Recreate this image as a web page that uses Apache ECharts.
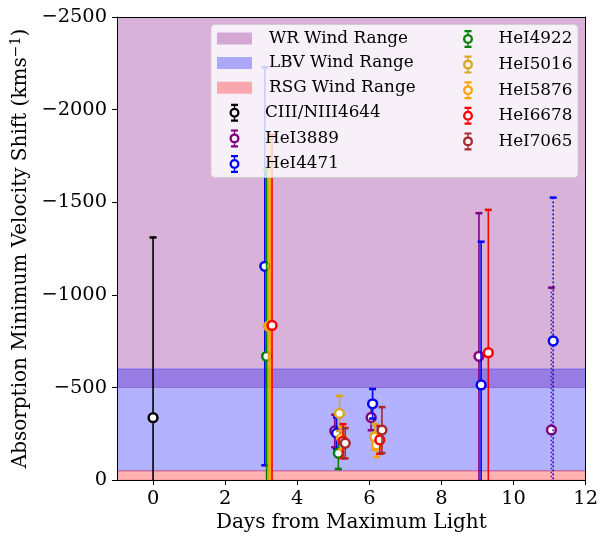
<!DOCTYPE html>
<html>
<head>
<meta charset="utf-8">
<script src="https://cdn.jsdelivr.net/npm/echarts@6/dist/echarts.min.js"></script>
<style>
   html, body { margin: 0; padding: 0; background: #ffffff; }
   #chart { width: 601px; height: 538px; }
</style>
</head>
<body>
<div id="chart"></div>
<script>

// wind speed ranges (km/s, plotted as negative shifts)
const windNames = ['WR Wind Range', 'LBV Wind Range', 'RSG Wind Range'];
const windSlow  = [-500, -50, 0];
const windFast  = [-3000, -600, -50];

// absorption minimum velocity per line: day, shift, error
const lineNames = ['CIII/NIII4644', 'HeI3889', 'HeI4471', 'HeI4922', 'HeI5016', 'HeI5876', 'HeI6678', 'HeI7065'];

const days4644 = [0];
const vel4644  = [-337];
const err4644  = [973];

const days3889 = [5.04, 6.05, 9.04, 11.05];
const vel3889  = [-265, -338, -668, -271];
const err3889  = [88, 69, 773, 768];

const days4471 = [3.10, 5.09, 6.09, 9.10, 11.10];
const vel4471  = [-1154, -253, -412, -514, -751];
const err4471  = [1074, 86, 80, 773, 774];

const days4922 = [3.15, 5.14];
const vel4922  = [-668, -145];
const err4922  = [1010, 85];

const days5016 = [3.20, 5.17, 6.15];
const vel5016  = [-830, -360, -233];
const err5016  = [1030, 95, 70];

const days5876 = [3.25, 5.23, 6.20];
const vel5876  = [-835, -226, -190];
const err5876  = [1030, 60, 66];

const days6678 = [3.30, 5.27, 6.29, 9.30];
const vel6678  = [-835, -210, -217, -688];
const err6678  = [1030, 92, 75, 771];

const days7065 = [5.33, 6.35];
const vel7065  = [-199, -270];
const err7065  = [82, 124];

const xTicks = [0, 2, 4, 6, 8, 10, 12];


const lineDays = [days4644, days3889, days4471, days4922, days5016, days5876, days6678, days7065];
const lineVels = [vel4644, vel3889, vel4471, vel4922, vel5016, vel5876, vel6678, vel7065];
const lineErrs = [err4644, err3889, err4471, err4922, err5016, err5876, err6678, err7065];

const lineColors = ['#000000', '#800080', '#0000ff', '#008000', '#daa520', '#ffa500', '#ff0000', '#a52a2a'];
const windColors = ['rgba(128,0,128,0.3)', 'rgba(0,0,255,0.3)', 'rgba(255,0,0,0.3)'];

const font = 'DejaVu Serif';

const patchIcon = 'path://M0,0H35V12H0Z';
const errIcon = 'path://M1.5,0H8.5V2.2H1.5Z M4.3,2.2H5.7V4.2H4.3Z M4.3,13.8H5.7V15.8H4.3Z M1.5,15.8H8.5V18H1.5Z ' +
                'M0,9A5,5,0,1,1,10,9A5,5,0,1,1,0,9Z M2.3,9A2.7,2.7,0,1,0,7.7,9A2.7,2.7,0,1,0,2.3,9Z';


function bandItem(params, api)
{
   var cs = params.coordSys;
   var y0 = api.coord([0, api.value(0)])[1];
   var y1 = api.coord([0, api.value(1)])[1];
   var c = api.visual('color');
   return {
      type: 'rect',
      shape: { x: cs.x, y: Math.min(y0, y1), width: cs.width, height: Math.abs(y1 - y0) },
      style: { fill: c, stroke: c, lineWidth: 1 }
   };
}

function errorBarItem(params, api)
{
   var day = api.value(0);
   var v = api.value(1);
   var e = api.value(2);
   var p = api.coord([day, v]);
   var top = api.coord([day, v - e]);
   var bot = api.coord([day, v + e]);
   var c = api.visual('color');
   var dotted = day > 10.5; // last epoch is drawn dotted

   return {
      type: 'group',
      children: [
         { type: 'line', shape: { x1: p[0], y1: top[1], x2: p[0], y2: bot[1] },
           style: { stroke: c, lineWidth: 1.6, lineDash: dotted ? [1.6, 2.4] : null } },
         { type: 'line', shape: { x1: p[0] - 3.5, y1: top[1], x2: p[0] + 3.5, y2: top[1] },
           style: { stroke: c, lineWidth: 2.5 } },
         { type: 'line', shape: { x1: p[0] - 3.5, y1: bot[1], x2: p[0] + 3.5, y2: bot[1] },
           style: { stroke: c, lineWidth: 2.5 } },
         { type: 'circle', shape: { cx: p[0], cy: p[1], r: 4.4 },
           style: { fill: '#ffffff', stroke: c, lineWidth: 2.5 } }
      ]
   };
}


var series = [];

for (var i=0; i<windNames.length; i++)
{
   series.push({
      name: windNames[i],
      type: 'custom',
      clip: true,
      silent: true,
      itemStyle: { color: windColors[i] },
      encode: { y: [0, 1] },
      data: [[windSlow[i], windFast[i]]],
      renderItem: bandItem
   });
}

for (var i=0; i<lineNames.length; i++)
{
   var rows = [];
   for (var j=0; j<lineDays[i].length; j++) rows.push([lineDays[i][j], lineVels[i][j], lineErrs[i][j]]);

   series.push({
      name: lineNames[i],
      type: 'custom',
      clip: true,
      silent: true,
      itemStyle: { color: lineColors[i] },
      encode: { x: 0, y: 1 },
      data: rows,
      renderItem: errorBarItem
   });
}


var legendCol1 = [];
var legendCol2 = [];
for (var i=0; i<windNames.length; i++)
   legendCol1.push({ name: windNames[i], icon: patchIcon, textStyle: { padding: [0, 0, 0, 12] } });
for (var i=0; i<lineNames.length; i++)
{
   var item = { name: lineNames[i], icon: errIcon, textStyle: { padding: [0, 0, 0, 8] } };
   if (i < 3) legendCol1.push(item);
   else legendCol2.push(item);
}

var legendBase =
{
   orient: 'vertical',
   top: 25,
   itemWidth: 35,
   itemHeight: 18,
   itemGap: 7.6,
   selectedMode: false,
   textStyle: { fontFamily: font, fontSize: 16.8, color: '#000000' }
};


var chart = echarts.init(document.getElementById('chart'), null, { renderer: 'canvas' });

var option =
{
   animation: false,
   backgroundColor: '#ffffff',
   grid: { left: 117, right: 14, top: 17, bottom: 56 },
   xAxis: [
      {
         type: 'value',
         min: -1,
         max: 12,
         z: 10,
         name: 'Days from Maximum Light',
         nameLocation: 'middle',
         nameGap: 31,
         nameTextStyle: { fontFamily: font, fontSize: 20, color: '#000000' },
         axisLine: { show: true, lineStyle: { color: '#000000', width: 1 } },
         axisTick: { show: true, length: 5, customValues: xTicks, lineStyle: { color: '#000000' } },
         axisLabel: { customValues: xTicks, margin: 9, fontFamily: font, fontSize: 19.4, color: '#000000' },
         splitLine: { show: false }
      },
      {
         type: 'value',
         position: 'top',
         min: -1,
         max: 12,
         z: 10,
         axisLine: { show: true, onZero: false, lineStyle: { color: '#000000', width: 1 } },
         axisTick: { show: false },
         axisLabel: { show: false },
         splitLine: { show: false }
      }
   ],
   yAxis: [
      {
         type: 'value',
         min: -2500,
         max: 0,
         interval: 500,
         inverse: true,
         z: 10,
         name: 'Absorption Minimum Velocity Shift (kms{sup|\u22121})',
         nameLocation: 'middle',
         nameGap: 84,
         nameTextStyle: {
            fontFamily: font, fontSize: 20, color: '#000000',
            rich: { sup: { fontFamily: font, fontSize: 14, color: '#000000', verticalAlign: 'top', padding: [0, 0, 8, 0] } }
         },
         axisLine: { show: true, onZero: false, lineStyle: { color: '#000000', width: 1 } },
         axisTick: { show: true, length: 5, lineStyle: { color: '#000000' } },
         axisLabel: {
            margin: 10, fontFamily: font, fontSize: 19.4, color: '#000000',
            formatter: function (v) { return String(v).replace('-', '\u2212'); }
         },
         splitLine: { show: false }
      },
      {
         type: 'value',
         position: 'right',
         min: -2500,
         max: 0,
         interval: 500,
         inverse: true,
         z: 10,
         axisLine: { show: true, onZero: false, lineStyle: { color: '#000000', width: 1 } },
         axisTick: { show: false },
         axisLabel: { show: false },
         splitLine: { show: false }
      }
   ],
   graphic: [
      {
         type: 'rect',
         z: 3,
         silent: true,
         shape: { x: 211, y: 24.5, width: 367, height: 153, r: 4 },
         style: { fill: 'rgba(255,255,255,0.8)', stroke: 'rgba(204,204,204,0.8)', lineWidth: 1 }
      }
   ],
   legend: [
      Object.assign({}, legendBase, { left: 212, data: legendCol1 }),
      Object.assign({}, legendBase, { left: 458, data: legendCol2 })
   ],
   series: series
};

chart.setOption(option);

</script>
</body>
</html>
